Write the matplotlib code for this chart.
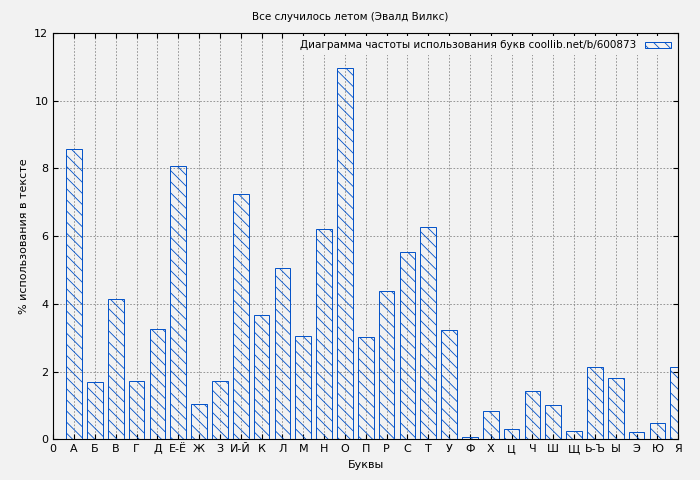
import matplotlib
matplotlib.use("Agg")
import matplotlib.pyplot as plt

letters = ["А", "Б", "В", "Г", "Д", "Е-Ё", "Ж", "З", "И-Й", "К", "Л", "М", "Н", "О", "П",
           "Р", "С", "Т", "У", "Ф", "Х", "Ц", "Ч", "Ш", "Щ", "Ь-Ъ", "Ы", "Э", "Ю", "Я"]
values = [8.57, 1.68, 4.14, 1.71, 3.25, 8.07, 1.03, 1.71, 7.24, 3.67, 5.05, 3.04, 6.21, 10.97, 3.02,
          4.37, 5.53, 6.27, 3.22, 0.06, 0.83, 0.30, 1.42, 1.00, 0.24, 2.13, 1.80, 0.21, 0.47, 2.13]

plt.rcParams["hatch.color"] = "#0050c8"
plt.rcParams["hatch.linewidth"] = 0.6

fig = plt.figure(figsize=(7, 4.8), dpi=100, facecolor="#f2f2f2")
ax = fig.add_axes([0.076, 0.085, 0.893, 0.846])
ax.set_facecolor("#f2f2f2")

pos = list(range(1, len(letters) + 1))
ax.bar(pos, values, width=0.75, facecolor="none", edgecolor="#0050c8",
       hatch="\\\\\\", linewidth=0.7, label="Диаграмма частоты использования букв coollib.net/b/600873")

ax.set_xlim(0, 30)
ax.set_ylim(0, 12)
ax.set_xticks([0] + pos)
ax.set_xticklabels(["0"] + letters, fontsize=8)
ax.set_yticks(range(0, 13, 2))
ax.tick_params(axis="y", labelsize=8)
ax.tick_params(direction="in", top=True, right=True)
ax.grid(True, color="#888888", linestyle=(0, (2, 2)), linewidth=0.6)
ax.set_axisbelow(True)

ax.set_xlabel("Буквы", fontsize=8)
ax.set_ylabel("% использования в тексте", fontsize=8)
fig.suptitle("Все случилось летом (Эвалд Вилкс)", fontsize=7.5, y=0.975)
ax.legend(loc="upper right", fontsize=7.5, frameon=True, facecolor="#f2f2f2", edgecolor="none",
          framealpha=1, handlelength=2.5, handleheight=0.5, borderaxespad=0.3, markerfirst=False)

fig.savefig("out.png", dpi=100, facecolor=fig.get_facecolor())
